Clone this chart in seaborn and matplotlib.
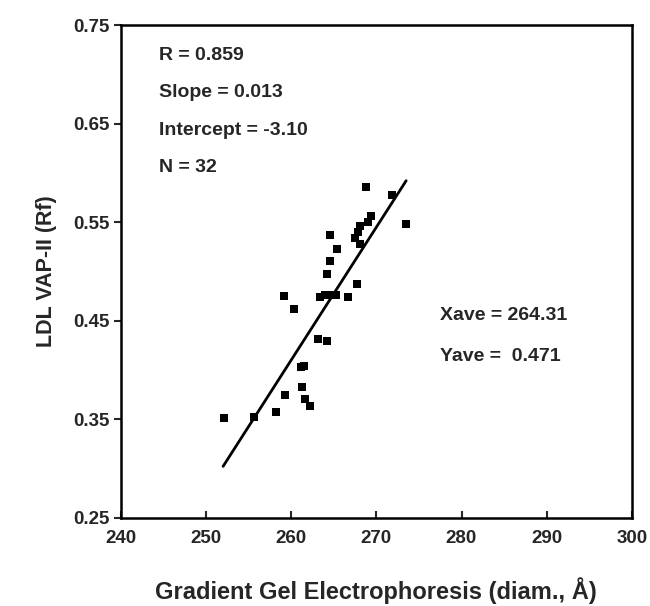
import numpy as np
import pandas as pd
import matplotlib
matplotlib.use("Agg")
from matplotlib import pyplot as plt
import seaborn as sns

# values
gge_diam = [268.8, 271.8, 273.5, 269.4, 269.0, 268.1, 267.5, 268.1,
            264.5, 265.4, 264.6, 264.2, 267.7, 259.1, 263.4, 264.0,
            264.8, 265.3, 266.7, 260.3, 263.2, 264.2, 261.5, 261.2,
            261.3, 259.3, 261.6, 262.2, 258.2, 255.6, 252.1, 267.8]
vap_rf = [0.586, 0.578, 0.548, 0.556, 0.550, 0.546, 0.534, 0.528,
          0.537, 0.523, 0.511, 0.497, 0.487, 0.475, 0.474, 0.476,
          0.476, 0.476, 0.474, 0.462, 0.431, 0.429, 0.404, 0.403,
          0.383, 0.374, 0.370, 0.363, 0.357, 0.352, 0.351, 0.540]

# regression line as drawn
fit_slope = 0.0135
fit_intercept = -3.10
fit_x = [252.0, 273.5]

stats_left = ["R = 0.859", "Slope = 0.013", "Intercept = -3.10", "N = 32"]
stats_right = ["Xave = 264.31", "Yave =  0.471"]

df = pd.DataFrame({"x": gge_diam, "y": vap_rf})
line = pd.DataFrame({"x": fit_x})
line["y"] = fit_slope * line["x"] + fit_intercept

sns.set_style("white")
plt.rcParams["font.family"] = ["Liberation Sans", "DejaVu Sans"]
plt.rcParams["font.weight"] = "bold"

fig = plt.figure(figsize=(6.5, 6.06), dpi=100)
ax = fig.add_axes([0.186, 0.146, 0.786, 0.812])

sns.scatterplot(data=df, x="x", y="y", marker="s", s=36, color="black",
                edgecolor="black", linewidth=0, ax=ax)
sns.lineplot(data=line, x="x", y="y", color="black", linewidth=2, ax=ax)

ax.set_xlim(240, 300)
ax.set_ylim(0.25, 0.75)
ax.set_xticks(np.arange(240, 301, 10))
ax.set_yticks([0.25, 0.35, 0.45, 0.55, 0.65, 0.75])
ax.set_yticklabels(["0.25", "0.35", "0.45", "0.55", "0.65", "0.75"])
ax.tick_params(axis="x", direction="in", length=5, width=1.5, labelsize=13.5, pad=9)
ax.tick_params(axis="y", direction="out", length=5, width=1.5, labelsize=13.5, pad=3)
ax.tick_params(axis="both", which="both", bottom=True, left=True)
for lab in ax.get_xticklabels() + ax.get_yticklabels():
    lab.set_fontweight("bold")
for sp in ax.spines.values():
    sp.set_color("black")
    sp.set_linewidth(1.8)

ax.set_xlabel("Gradient Gel Electrophoresis (diam., Å)", fontsize=17,
              fontweight="bold", labelpad=22)
ax.set_ylabel("LDL VAP-II (Rf)", fontsize=15.5, fontweight="bold", labelpad=12)

for i, t in enumerate(stats_left):
    ax.text(0.075, 0.939 - i * 0.076, t, transform=ax.transAxes, fontsize=14,
            fontweight="bold", va="center", ha="left")
for i, t in enumerate(stats_right):
    ax.text(0.625, 0.41 - i * 0.082, t, transform=ax.transAxes, fontsize=14,
            fontweight="bold", va="center", ha="left")

plt.savefig("out.png", dpi=100)
